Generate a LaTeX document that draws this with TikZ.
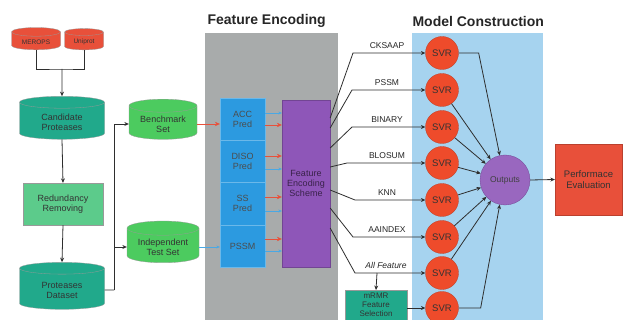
\documentclass[tikz,border=0pt]{standalone}
\usepackage{fontspec}
\setmainfont{Liberation Sans}
\usetikzlibrary{shapes.geometric,arrows.meta}
\definecolor{srcred}{HTML}{E8503A}
\definecolor{dbteal}{HTML}{21A98B}
\definecolor{procgreen}{HTML}{5CCB8B}
\definecolor{setgreen}{HTML}{4CCB5F}
\definecolor{predblue}{HTML}{2C9AE0}
\definecolor{encpurple}{HTML}{8E56B8}
\definecolor{panelgray}{HTML}{A8ABAB}
\definecolor{panelblue}{HTML}{A6D3EF}
\definecolor{svrred}{HTML}{EE4B2B}
\definecolor{linkgray}{HTML}{2E2E2E}
\definecolor{thinblue}{HTML}{4AA8E4}
\tikzset{
  txt/.style={font=\fontsize{9}{10}\selectfont, text=black!80, align=center},
  db/.style={cylinder, shape border rotate=90, aspect=0.25, draw=white!60!black, line width=0.3pt, txt},
  box/.style={rectangle, draw=white!60!black, line width=0.3pt, txt},
  svr/.style={circle, fill=svrred, draw=svrred!80!black, line width=0.3pt, minimum size=33pt, inner sep=0pt, font=\fontsize{9.5}{10}\selectfont, text=black!80},
  link/.style={draw=linkgray, line width=0.8pt, -{Stealth[length=4.5pt,width=4pt]}},
  plain/.style={draw=linkgray, line width=0.8pt},
  redlink/.style={draw=srcred, line width=0.9pt, -{Stealth[length=5pt,width=4.5pt]}},
  bluelink/.style={draw=thinblue, line width=0.7pt, -{Stealth[length=3.5pt,width=3pt]}},
  feat/.style={font=\fontsize{8.5}{9}\selectfont, text=black!85},
  title/.style={font=\fontsize{14}{15}\selectfont\bfseries, text=black!85, anchor=west}
}
\begin{document}
\begin{tikzpicture}[x=1pt,y=-1pt]
\useasboundingbox (0,0) rectangle (623,320);
\clip (0,0) rectangle (623,320);
\fill[white] (0,0) rectangle (623,320);

% background panels
\fill[panelgray] (205,33) rectangle (338,330);
\fill[panelblue] (412,33) rectangle (543,330);
\node[title] (tfe) at (204,21) {Feature Encoding};
\node[title] (tmc) at (409,21) {Model Construction};

% data sources
\node[db, fill=srcred, minimum width=49pt, minimum height=20pt, font=\fontsize{6.5}{7}\selectfont] (merops) at (36,42) {MEROPS};
\node[db, fill=srcred, minimum width=39pt, minimum height=20pt, font=\fontsize{6.5}{7}\selectfont] (uniprot) at (84,42) {Uniprot};
\coordinate (join) at (62,69);

% preparation column
\node[db, fill=dbteal, minimum width=85pt, minimum height=43pt] (cand) at (62,122) {Candidate\\Proteases};
\node[box, fill=procgreen, minimum width=80pt, minimum height=42pt] (redund) at (63,204) {Redundancy\\Removing};
\node[db, fill=dbteal, minimum width=85pt, minimum height=47pt] (dataset) at (62,290) {Proteases\\Dataset};

\draw[plain] (merops.south) |- (join) -| (uniprot.south);
\draw[link] (join) -- (cand.north);
\draw[link] (cand.south) -- (redund.north);
\draw[link] (redund.south) -- (dataset.north);

% training and test sets
\node[db, fill=setgreen, minimum width=68pt, minimum height=33pt] (bench) at (163,124) {Benchmark\\Set};
\node[db, fill=setgreen, minimum width=72pt, minimum height=33pt] (indep) at (163,247) {Independent\\Test Set};
\coordinate (split) at (114,290);
\draw[plain] (dataset.east) -- (split);
\draw[link] (split) |- (bench.west);
\draw[link] (split) |- (indep.west);

% predicted feature sources
\begin{scope}[every node/.style={box, fill=predblue, draw=predblue!70!white, minimum width=45pt, text=black!70}]
\node[minimum height=42pt] (acc) at (242.5,119) {ACC\\Pred};
\node[minimum height=42pt] (diso) at (242.5,161) {DISO\\Pred};
\node[minimum height=43pt] (ss) at (242.5,203.5) {SS\\Pred};
\node[minimum height=42pt] (pssm) at (242.5,246) {PSSM};
\end{scope}

\node[box, fill=encpurple, draw=encpurple!80!black, minimum width=48pt, minimum height=167pt, text=encpurple!40!black] (fes) at (306,183.5) {Feature\\Encoding\\Scheme};

\draw[redlink] (bench.east) -- (acc.west |- bench.east);
\draw[bluelink] (indep.east) -- (pssm.west |- indep.east);

\foreach \y in {125,156,197,239} \draw[redlink] (acc.east |- 0,\y) -- (fes.west |- 0,\y);
\foreach \y in {113,169,211,251} \draw[bluelink] (acc.east |- 0,\y) -- (fes.west |- 0,\y);

% SVR models
\foreach \i/\y in {1/53,2/90,3/127,4/163,5/200,6/237,7/273,8/308}
  \node[svr] (s\i) at (442,\y) {SVR};

\node[circle, fill=encpurple!90!white, draw=encpurple!80!black, line width=0.3pt, minimum size=50pt, inner sep=0pt, font=\fontsize{8.5}{9}\selectfont, text=black!75] (out) at (505,180) {Outputs};
\node[box, fill=srcred, draw=srcred!80!black, minimum width=67pt, minimum height=71pt, font=\fontsize{9.5}{11}\selectfont] (perf) at (588.5,179.5) {Performace\\Evaluation};

% encodings
\foreach \i/\ya/\yb/\xb/\lab in {1/118/53/353/CKSAAP, 2/128/90/352/PSSM, 3/148/127/352/BINARY, 4/167/163/347/BLOSUM, 5/190/200/355/KNN, 6/208/237/353/AAINDEX}{
  \draw[link] (fes.east |- 0,\ya) -- (\xb,\yb) -- (s\i.west);
  \node[feat] (lab\i) at (387,\yb-7) {\lab};
}
\coordinate (allbend) at (355,273);
\coordinate (allsplit) at (377,273);
\draw[link] (fes.east |- 0,228) -- (allbend) -- (s7.west);
\node[feat] (lab7) at (386,265) {\textit{All Feature}};

\node[box, fill=dbteal, minimum width=62pt, minimum height=44pt, anchor=north] (mrmr) at (376,290) {};
\node[font=\fontsize{8}{8.7}\selectfont, text=black!80, align=center, anchor=north, inner sep=0pt] (mrmrtxt) at (376,293) {mRMR\\Feature\\Selection};
\draw[link] (allsplit) -- (mrmr.north);
\draw[link] (mrmr.east |- s8) -- (s8.west);

% model outputs
\draw[link] (s1.east) -- ([xshift=20pt]s1.east) -- (out.102);
\foreach \i in {2,...,7} \draw[link] (s\i) -- (out);
\draw[link] (s8.east) -- ([xshift=22pt]s8.east) -- (out.258);
\draw[link] (out.east) -- (perf.west);
\end{tikzpicture}
\end{document}
